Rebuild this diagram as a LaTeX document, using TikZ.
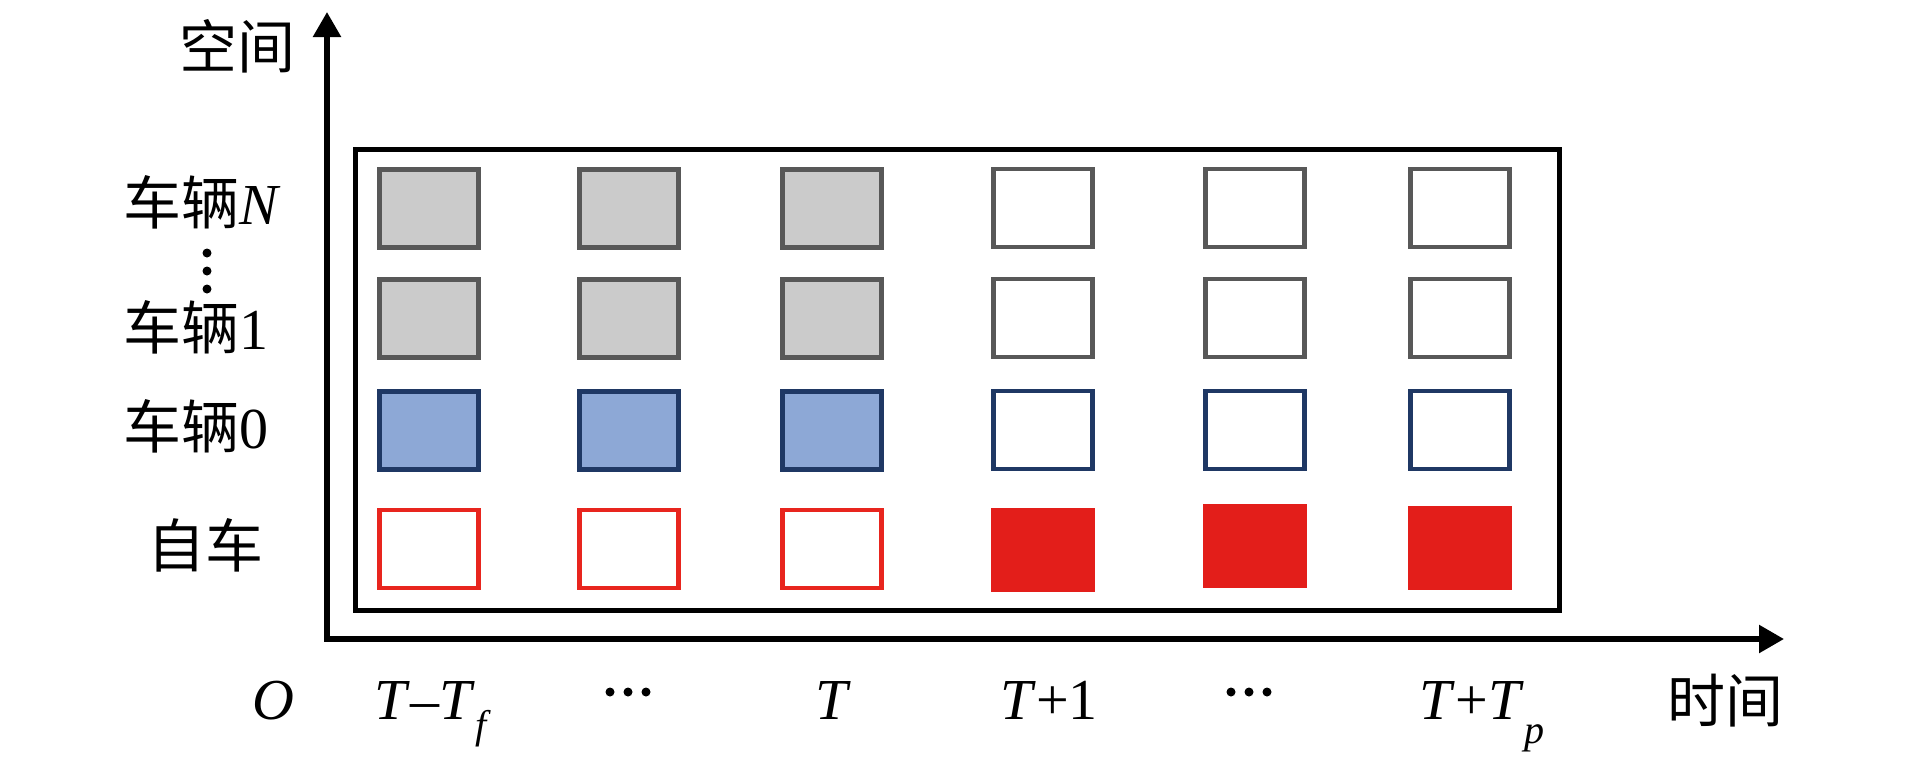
\documentclass[tikz,border=0pt]{standalone}
\usepackage{fontspec}
\setmainfont{Liberation Serif}
\newfontfamily\cjk{Noto Sans CJK SC}
\usetikzlibrary{arrows.meta}
\definecolor{gstroke}{HTML}{585858}
\definecolor{gfill}{HTML}{CBCBCB}
\definecolor{bstroke}{HTML}{1F3864}
\definecolor{bfill}{HTML}{8DA8D6}
\definecolor{rstroke}{HTML}{E8251E}
\definecolor{rfill}{HTML}{E31E1A}
\begin{document}
\begin{tikzpicture}[x=1pt,y=-1pt,
  box/.style={rectangle,minimum width=99pt,minimum height=78pt,inner sep=0pt,line width=5pt},
  graybox/.style={box,draw=gstroke,fill=gfill},
  grayhollow/.style={box,draw=gstroke,fill=white,line width=4.5pt},
  bluebox/.style={box,draw=bstroke,fill=bfill},
  bluehollow/.style={box,draw=bstroke,fill=white,line width=4.5pt},
  redhollow/.style={box,draw=rstroke,fill=white,line width=4.5pt},
  redbox/.style={box,draw=rfill,fill=rfill,line width=2pt,minimum width=102pt,minimum height=82pt},
  frame/.style={rectangle,draw=black,line width=5pt,minimum width=1204pt,minimum height=461pt,inner sep=0pt},
  axes/.style={line width=5.5pt,{Triangle[length=25pt,width=27pt]}-{Triangle[length=25pt,width=27pt]}},
  lab/.style={inner sep=0pt,font=\fontsize{58}{60}\selectfont},
  vdot/.style={circle,fill=black,inner sep=0pt,minimum size=9pt},
]
\useasboundingbox (0,0) rectangle (1913,756);

% axes
\coordinate (ytip) at (327,12);
\coordinate (orig) at (327,639);
\coordinate (xtip) at (1784,639);
\draw[axes] (ytip) -- (orig) -- (xtip);

% frame
\node[frame] (frame) at (957.5,380) {};

% boxes
\foreach \c/\x in {1/429,2/629,3/832}{
  \node[graybox] (bN-\c) at (\x,208) {};
  \node[graybox] (b1-\c) at (\x,318) {};
  \node[bluebox] (b0-\c) at (\x,430) {};
  \node[redhollow] (be-\c) at (\x,549) {};
}
\foreach \c/\x/\ye in {4/1043/550,5/1255/546,6/1460/548}{
  \node[grayhollow] (bN-\c) at (\x,208) {};
  \node[grayhollow] (b1-\c) at (\x,318) {};
  \node[bluehollow] (b0-\c) at (\x,430) {};
  \node[redbox] (be-\c) at (\x,\ye) {};
}

% left labels
\node[lab,anchor=base] (space) at (237,68) {\cjk 空间};
\node[lab,anchor=base west] (vN) at (123,224) {{\cjk 车辆}\textit{N}};
\node[vdot] (d1) at (207,253) {};
\node[vdot] (d2) at (207,271) {};
\node[vdot] (d3) at (207,289) {};
\node[lab,anchor=base west] (v1) at (123,349) {{\cjk 车辆}1};
\node[lab,anchor=base west] (v0) at (123,448) {{\cjk 车辆}0};
\node[lab,anchor=base] (ego) at (205,567) {\cjk 自车};

% bottom labels
\node[lab,anchor=base] (tO) at (273,719) {\textit{O}};
\node[lab,anchor=base] (tA) at (433,719) {\textit{T}–\textit{T}\raisebox{-19pt}{\fontsize{40}{40}\selectfont\textit{f}}};
\node[vdot] (e1) at (610,692) {};
\node[vdot] (e2) at (628,692) {};
\node[vdot] (e3) at (646,692) {};
\node[lab,anchor=base] (tT) at (833,719) {\textit{T}};
\node[lab,anchor=base] (tB) at (1049,719) {\textit{T}+1};
\node[vdot] (f1) at (1231,692) {};
\node[vdot] (f2) at (1249,692) {};
\node[vdot] (f3) at (1267,692) {};
\node[lab,anchor=base] (tC) at (1482,719) {\textit{T}+\textit{T}\raisebox{-24pt}{\fontsize{40}{40}\selectfont\textit{p}}};
\node[lab,anchor=base] (time) at (1725,722) {\cjk 时间};
\end{tikzpicture}
\end{document}
